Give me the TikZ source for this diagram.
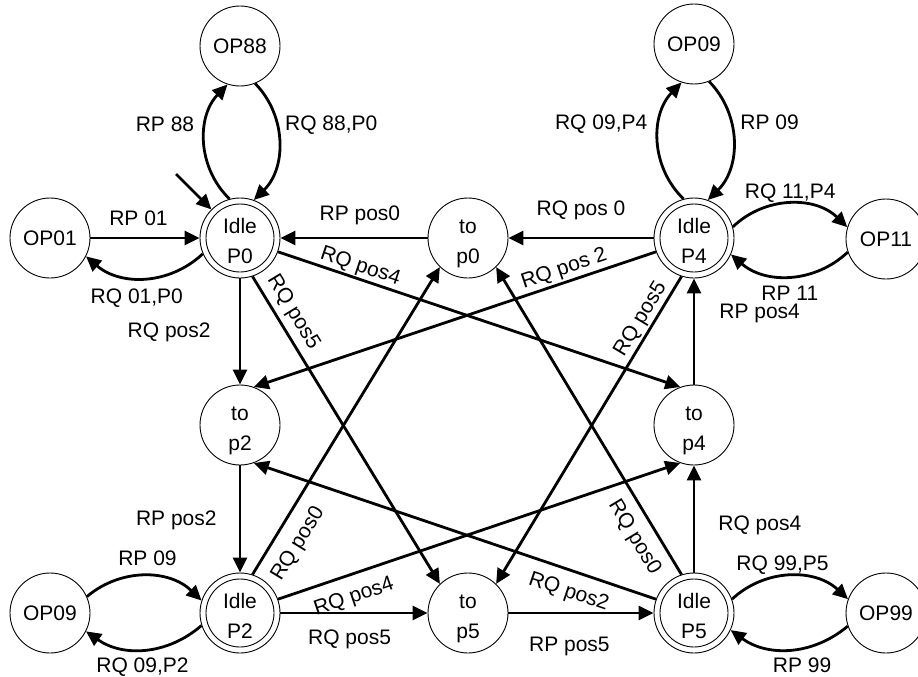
\documentclass[tikz,border=0pt]{standalone}
\usepackage{fontspec}
\setmainfont{Liberation Sans}
\usetikzlibrary{arrows.meta}
\newcommand{\twoln}[2]{\rule{0pt}{26pt}#1\\#2\rule[-5pt]{0pt}{5pt}}
\begin{document}
\begin{tikzpicture}[x=1pt,y=-1pt,
  st/.style={circle, draw, line width=0.9pt, minimum size=80pt, inner sep=0pt,
    font=\fontsize{21}{30}\selectfont, align=center},
  op/.style={circle, draw, line width=0.9pt, minimum size=80pt, inner sep=0pt,
    font=\fontsize{21}{24}\selectfont, text height=15pt, text depth=0pt},
  idle/.style={st, path picture={\draw[line width=0.9pt] (path picture bounding box.center) circle[radius=34pt];}},
  edge/.style={line width=2.8pt, -{Triangle[length=15pt,width=14pt]}},
  lab/.style={font=\fontsize{21}{24}\selectfont, inner sep=0pt, text height=15pt, text depth=0pt},
]
\useasboundingbox (0,0) rectangle (918,677);

% states
\node[idle] (p0)  at (240,238) {\twoln{Idle}{P0}};
\node[st]   (tp0) at (468,238) {\twoln{to}{p0}};
\node[idle] (p4)  at (694,238) {\twoln{Idle}{P4}};
\node[op]   (op01) at (50,238) {OP01};
\node[op]   (op88) at (240,46) {OP88};
\node[op]   (op09a) at (694,44) {OP09};
\node[op]   (op11) at (886,239) {OP11};
\node[st]   (tp2) at (240,425) {\twoln{to}{p2}};
\node[st]   (tp4) at (694,425) {\twoln{to}{p4}};
\node[idle] (p2)  at (240,613) {\twoln{Idle}{P2}};
\node[st]   (tp5) at (468,613) {\twoln{to}{p5}};
\node[idle] (p5)  at (694,613) {\twoln{Idle}{P5}};
\node[op]   (op09b) at (50,613) {OP09};
\node[op]   (op99) at (886,613) {OP99};
\coordinate (init) at (176,174);

% initial
\draw[edge] (init) -- (p0);

% P0 loops
\draw[edge] (op01) -- node[lab, pos=0.44, above=11.5pt] {RP 01} (p0);
\draw[edge] (p0.203) to[bend left=42] node[lab, pos=0.565, below=9pt] {RQ 01,P0} (op01.-27);
\draw[edge] (p0.105) to[bend left=45] node[lab, pos=0.65, left=11pt] {RP 88} (op88.252);
\draw[edge] (op88.-68) to[bend left=45] node[lab, pos=0.35, right=7pt] {RQ 88,P0} (p0.70);

% P4 loops
\draw[edge] (p4.105) to[bend left=45] node[lab, pos=0.65, left=11.5pt] {RQ 09,P4} (op09a.252);
\draw[edge] (op09a.-68) to[bend left=45] node[lab, pos=0.35, right=8pt] {RP 09} (p4.70);
\draw[edge] (p4.16) to[bend left=44] node[lab, pos=0.5, above=3.8pt] {RQ 11,P4} (op11.163);
\draw[edge] (op11.199) to[bend left=42] node[lab, pos=0.5, below=7.5pt] {RP 11} (p4.-24);

% P2 loops
\draw[edge] (op09b.24) to[bend left=42] node[lab, pos=0.52, above=9.2pt] {RP 09} (p2.162);
\draw[edge] (p2.198) to[bend left=38] node[lab, pos=0.52, below=6.5pt] {RQ 09,P2} (op09b.-27);

% P5 loops
\draw[edge] (p5.20) to[bend left=43] node[lab, pos=0.44, above=4.2pt] {RQ 99,P5} (op99.160);
\draw[edge] (op99.199) to[bend left=38] node[lab, pos=0.4, below=8pt] {RP 99} (p5.-25);

% straight moves
\draw[edge] (tp0) -- node[lab, pos=0.46, above=16.5pt] {RP pos0} (p0);
\draw[edge] (p4) -- node[lab, pos=0.5, above=21.5pt] {RQ pos 0} (tp0);
\draw[edge] (p0) -- node[lab, pos=0.49, left=28pt] {RQ pos2} (tp2);
\draw[edge] (tp2) -- node[lab, pos=0.49, left=22pt] {RP pos2} (p2);
\draw[edge] (tp4) -- node[lab, pos=0.69, right=24pt] {RP pos4} (p4);
\draw[edge] (p5) -- node[lab, pos=0.46, right=23pt] {RQ pos4} (tp4);
\draw[edge] (p2) -- node[lab, pos=0.47, below=15pt] {RQ pos5} (tp5);
\draw[edge] (tp5) -- node[lab, pos=0.42, below=22pt] {RP pos5} (p5);

% diagonal moves
\draw[edge] (p0.-20) -- node[lab, sloped, above, inner ysep=5.3pt, pos=0.195] {RQ pos4} (tp4.110);
\draw[edge] (p0.-72) -- node[lab, sloped, above, inner ysep=9.4pt, pos=0.144] {RQ pos5} (tp5.134);
\draw[edge] (p4.200) -- node[lab, sloped, above, inner ysep=6.3pt, pos=0.218] {RQ pos 2} (tp2.70);
\draw[edge] (p4.252) -- node[lab, sloped, above, inner ysep=6.2pt, pos=0.16] {RQ pos5} (tp5.46);
\draw[edge] (p2.72) -- node[lab, sloped, below, inner ysep=12pt, pos=0.139] {RQ pos0} (tp0.226);
\draw[edge] (p2.20) -- node[lab, sloped, below, inner ysep=11.6pt, pos=0.171] {RQ pos4} (tp4.250);
\draw[edge] (p5.160) -- node[lab, sloped, below, inner ysep=10.5pt, pos=0.2] {RQ pos2} (tp2.290);
\draw[edge] (p5.108) -- node[lab, sloped, below, inner ysep=10pt, pos=0.157] {RQ pos0} (tp0.314);
\end{tikzpicture}
\end{document}
